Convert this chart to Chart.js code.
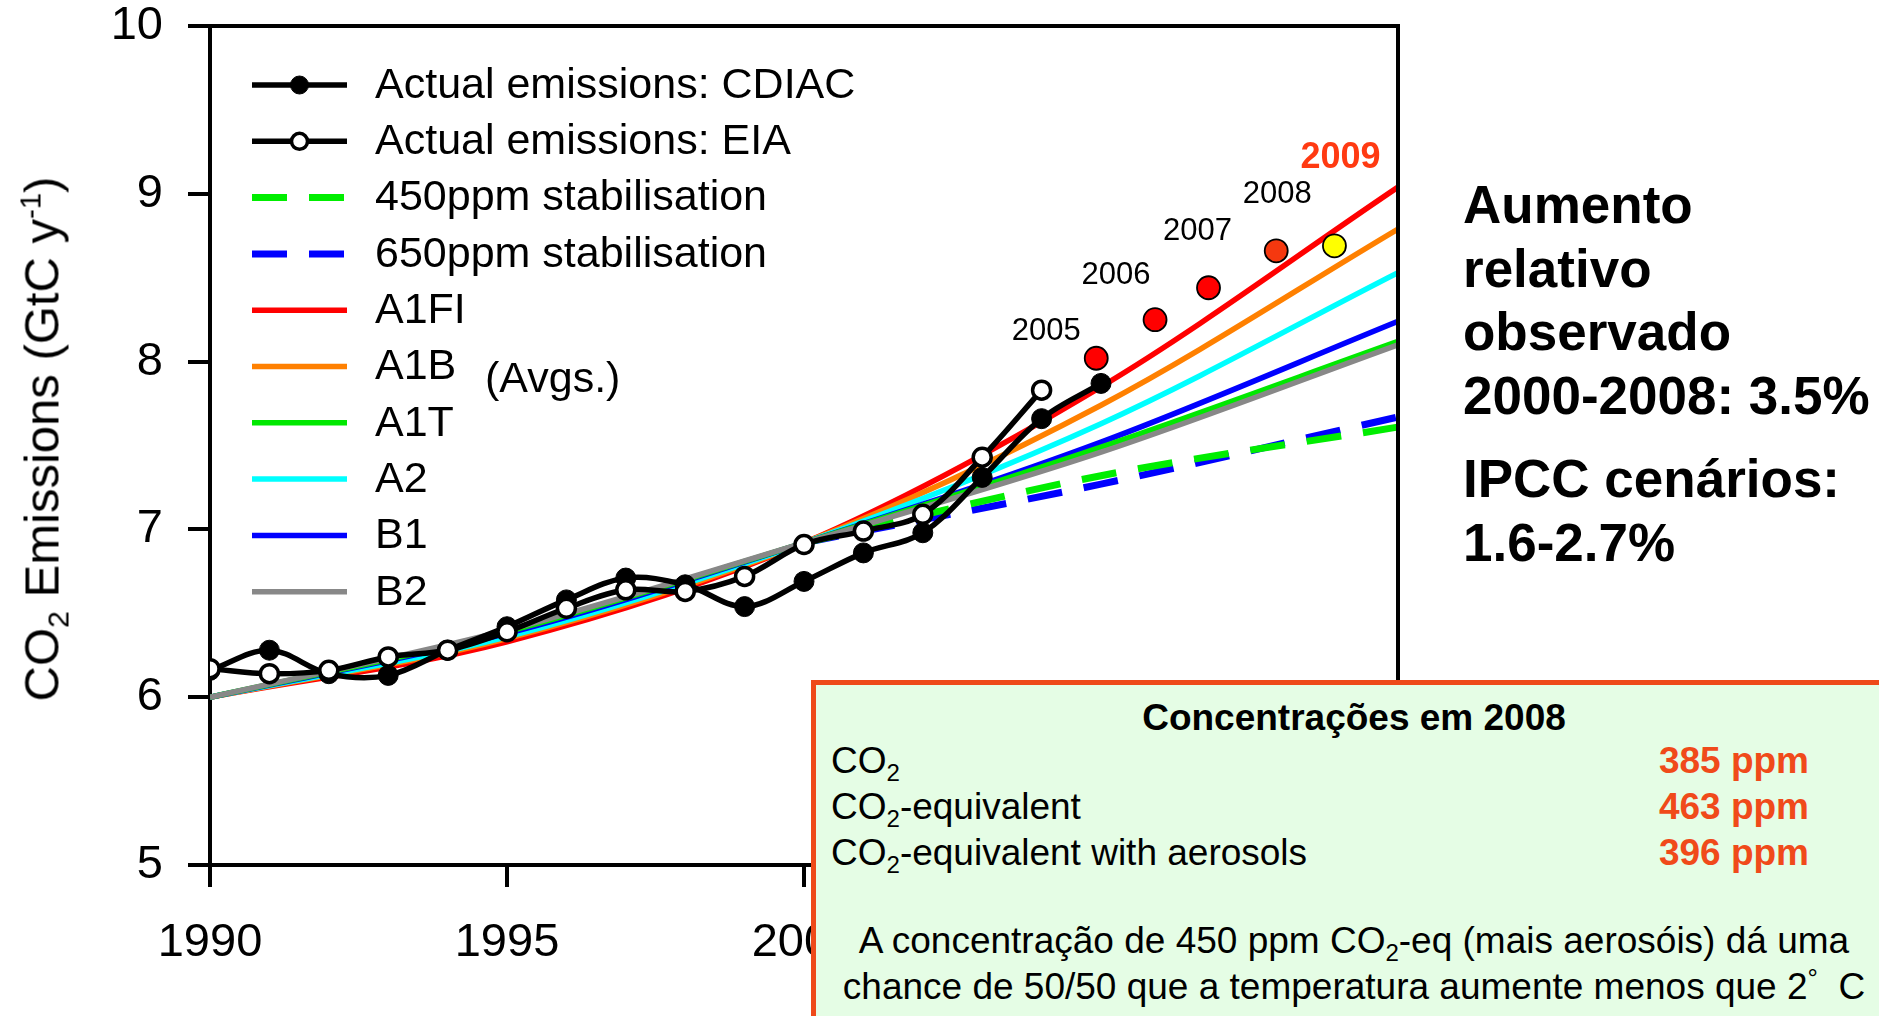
<!DOCTYPE html>
<html>
<head>
<meta charset="utf-8">
<title>CO2 Emissions</title>
<script src="https://cdn.jsdelivr.net/npm/chart.js@4/dist/chart.umd.min.js"></script>
<style>
  html, body { margin: 0; padding: 0; background: #fff; overflow: hidden; }
  #wrap { position: relative; width: 1879px; height: 1016px; overflow: hidden;
          font-family: "Liberation Sans", Arial, sans-serif; color: #000; }
  #chart { position: absolute; left: 0; top: 0; }
  .ytitle { position: absolute; left: 42px; top: 439px; font-size: 49px; line-height: 1;
            white-space: nowrap; transform: translate(-50%, -50%) rotate(-90deg); }
  .sub { font-size: 0.62em; position: relative; top: 0.32em; }
  .sup { font-size: 0.6em; position: relative; top: -0.62em; }
  .side { position: absolute; left: 1463px; font-weight: bold; font-size: 53px;
          line-height: 63.5px; white-space: nowrap; }
  .box { position: absolute; left: 811px; top: 680px; width: 1100px; height: 400px;
         box-sizing: border-box; border: 5px solid #ee4a1a; background: #e5fde5; }
  .bt { position: absolute; font-size: 37px; line-height: 37px; white-space: nowrap; }
  .bt.c { left: 1354px; transform: translateX(-50%); }
  .bt.l { left: 831px; }
  .bt.r { right: 70px; font-weight: bold; color: #f04a1a; }
  .bt .sub { font-size: 0.65em; top: 0.35em; }
</style>
</head>
<body>
<div id="wrap">
  <canvas id="chart" width="1879" height="1016"></canvas>

  <div class="ytitle">CO<span class="sub">2</span> Emissions (GtC y<span class="sup">-1</span>)</div>

  <div class="side" style="top:173px">Aumento<br>relativo<br>observado<br>2000-2008: 3.5%</div>
  <div class="side" style="top:447px">IPCC cenários:<br>1.6-2.7%</div>

  <div class="box"></div>
  <div class="bt c" style="top:699px;font-weight:bold">Concentrações em 2008</div>
  <div class="bt l" style="top:742px">CO<span class="sub">2</span></div>
  <div class="bt r" style="top:742px">385 ppm</div>
  <div class="bt l" style="top:788px">CO<span class="sub">2</span>-equivalent</div>
  <div class="bt r" style="top:788px">463 ppm</div>
  <div class="bt l" style="top:834px">CO<span class="sub">2</span>-equivalent with aerosols</div>
  <div class="bt r" style="top:834px">396 ppm</div>
  <div class="bt c" style="top:922px">A concentração de 450 ppm CO<span class="sub">2</span>-eq (mais aerosóis) dá uma</div>
  <div class="bt c" style="top:968px">chance de 50/50 que a temperatura aumente menos que 2<span style="position:relative;top:-0.45em;font-size:0.7em">°</span>&nbsp; C</div>
</div>

<script>
// ---- Observed emissions (GtC per year) ----
const cdiacYears  = [1990, 1991, 1992, 1993, 1994, 1995, 1996, 1997, 1998, 1999, 2000, 2001, 2002, 2003, 2004, 2005];
const cdiacValues = [6.16, 6.28, 6.14, 6.13, 6.28, 6.42, 6.58, 6.71, 6.67, 6.54, 6.69, 6.86, 6.98, 7.31, 7.66, 7.87];

const eiaYears  = [1990, 1991, 1992, 1993, 1994, 1995, 1996, 1997, 1998, 1999, 2000, 2001, 2002, 2003, 2004];
const eiaValues = [6.17, 6.14, 6.16, 6.24, 6.28, 6.39, 6.53, 6.64, 6.63, 6.72, 6.91, 6.99, 7.09, 7.43, 7.83];

// ---- Recent global estimates, one dot per year ----
const recentX      = [2004.92, 2005.91, 2006.81, 2007.95, 2008.93];
const recentValues = [8.02, 8.25, 8.44, 8.66, 8.69];
const recentLabels = ['2005', '2006', '2007', '2008', '2009'];

// ---- IPCC SRES scenario averages ----
const scenarioYears = [1990, 1995, 2000, 2005, 2010];
const a1fi    = [6.00, 6.33, 6.92, 7.85, 9.04];
const a1b     = [6.00, 6.35, 6.92, 7.74, 8.79];
const a2      = [6.00, 6.36, 6.92, 7.63, 8.53];
const b1      = [6.00, 6.38, 6.92, 7.52, 8.24];
const a1t     = [6.00, 6.39, 6.92, 7.49, 8.12];
const b2      = [6.00, 6.40, 6.92, 7.46, 8.10];

// ---- Stabilisation paths (diverge from the scenarios after 2000) ----
const stabYears = [2000, 2005, 2010];
const stab450   = [6.92, 7.32, 7.61];
const stab650   = [6.92, 7.27, 7.67];

// ---- Axis ticks ----
const xTicks = [1990, 1995, 2000, 2005, 2010];
const yTicks = [5, 6, 7, 8, 9, 10];

const FONT = '"Liberation Sans", Arial, sans-serif';
const pts = (xs, ys) => xs.map((x, i) => ({ x: x, y: ys[i] }));

function scenario(label, xs, ys, color, order, dashed) {
  return {
    label: label,
    data: pts(xs, ys),
    borderColor: color,
    backgroundColor: color,
    borderWidth: dashed ? 7 : 5.5,
    borderDash: dashed ? [35, 22] : [],
    pointRadius: 0,
    cubicInterpolationMode: 'monotone',
    fill: false,
    order: order
  };
}

const datasets = [
  {
    label: 'Actual emissions: EIA',
    data: pts(eiaYears, eiaValues),
    borderColor: '#000', borderWidth: 5.5,
    pointRadius: 9, pointBorderWidth: 3.5,
    pointBackgroundColor: '#fff', pointBorderColor: '#000',
    tension: 0.35, fill: false, order: 0
  },
  {
    label: 'Actual emissions: CDIAC',
    data: pts(cdiacYears, cdiacValues),
    borderColor: '#000', borderWidth: 5.5,
    pointRadius: 10, pointBorderWidth: 1,
    pointBackgroundColor: '#000', pointBorderColor: '#000',
    tension: 0.35, fill: false, order: 1
  },
  {
    label: 'recent',
    data: pts(recentX, recentValues),
    showLine: false,
    pointRadius: 11.5, pointBorderWidth: 1.8, pointBorderColor: '#000',
    pointBackgroundColor: ['#ff0000', '#ff0000', '#ff0000', '#f5380f', '#ffff00'],
    order: 2
  },
  scenario('B2', scenarioYears, b2, '#888888', 3),
  scenario('A1T', scenarioYears, a1t, '#00e800', 4),
  scenario('B1', scenarioYears, b1, '#0000ff', 5),
  scenario('A2', scenarioYears, a2, '#00ffff', 6),
  scenario('A1B', scenarioYears, a1b, '#ff8000', 7),
  scenario('A1FI', scenarioYears, a1fi, '#ff0000', 8),
  scenario('450ppm stabilisation', stabYears, stab450, '#00ee00', 9, true),
  scenario('650ppm stabilisation', stabYears, stab650, '#0000ff', 10, true)
];

const legendOrder = ['Actual emissions: CDIAC', 'Actual emissions: EIA', '450ppm stabilisation',
  '650ppm stabilisation', 'A1FI', 'A1B', 'A1T', 'A2', 'B1', 'B2'];

const legendLayout = { x0: 252, x1: 347, textX: 375, y0: 85, step: 56.3, size: 43 };
const labelOffsets = [[-50, -27], [-39, -44], [-11, -56], [1, -56], [6, -88]];

// Frame, legend and year labels drawn on top of the datasets
const decor = {
  id: 'decor',
  afterDatasetsDraw(chart) {
    const ctx = chart.ctx;
    const a = chart.chartArea;
    ctx.save();
    // top and right frame
    ctx.strokeStyle = '#000';
    ctx.lineWidth = 4;
    ctx.beginPath();
    ctx.moveTo(a.left - 22, a.top);
    ctx.lineTo(a.right, a.top);
    ctx.lineTo(a.right, a.bottom);
    ctx.stroke();

    // year labels beside the recent dots
    const meta = chart.getDatasetMeta(2);
    ctx.textAlign = 'center';
    ctx.textBaseline = 'middle';
    meta.data.forEach((pt, i) => {
      const last = i === recentLabels.length - 1;
      ctx.font = (last ? 'bold 36px ' : '31px ') + FONT;
      ctx.fillStyle = last ? '#ff3a12' : '#000';
      ctx.fillText(recentLabels[i], pt.x + labelOffsets[i][0], pt.y + labelOffsets[i][1]);
    });

    // legend
    ctx.textAlign = 'left';
    ctx.font = legendLayout.size + 'px ' + FONT;
    legendOrder.forEach((name, i) => {
      const ds = chart.data.datasets.find(d => d.label === name);
      const y = legendLayout.y0 + i * legendLayout.step;
      ctx.save();
      ctx.strokeStyle = ds.borderColor;
      ctx.lineWidth = ds.borderWidth;
      ctx.setLineDash(ds.borderDash || []);
      ctx.beginPath();
      ctx.moveTo(legendLayout.x0, y);
      ctx.lineTo(legendLayout.x1, y);
      ctx.stroke();
      ctx.restore();
      if (ds.pointRadius > 0) {
        const cx = (legendLayout.x0 + legendLayout.x1) / 2;
        ctx.beginPath();
        ctx.arc(cx, y, ds.pointRadius - 1, 0, Math.PI * 2);
        ctx.fillStyle = ds.pointBackgroundColor;
        ctx.fill();
        ctx.lineWidth = ds.pointBorderWidth;
        ctx.strokeStyle = ds.pointBorderColor;
        ctx.stroke();
      }
      ctx.fillStyle = '#000';
      ctx.fillText(name, legendLayout.textX, y + 1);
    });
    ctx.fillText('(Avgs.)', 485, 380);
    ctx.restore();
  }
};

new Chart(document.getElementById('chart'), {
  type: 'line',
  data: { datasets: datasets },
  options: {
    responsive: false,
    animation: false,
    events: [],
    layout: { padding: { left: 0, top: 26, right: 481, bottom: 0 } },
    plugins: { legend: { display: false }, tooltip: { enabled: false } },
    scales: {
      x: {
        type: 'linear', min: 1990, max: 2010,
        afterBuildTicks: s => { s.ticks = xTicks.map(v => ({ value: v })); },
        afterFit: s => { s.height = 151; s.paddingLeft = 0; s.paddingRight = 0; },
        grid: { display: true, drawOnChartArea: false, drawTicks: true, tickLength: 22, lineWidth: 4, color: '#000' },
        border: { display: true, color: '#000', width: 4 },
        ticks: { color: '#000', padding: 33, maxRotation: 0, autoSkip: false,
                 font: { family: FONT, size: 47, lineHeight: 1 }, callback: v => String(v) }
      },
      y: {
        type: 'linear', min: 5, max: 10,
        afterBuildTicks: s => { s.ticks = yTicks.map(v => ({ value: v })); },
        afterFit: s => { s.width = 210; s.paddingTop = 0; s.paddingBottom = 0; },
        grid: { display: true, drawOnChartArea: false, drawTicks: true, tickLength: 22, lineWidth: 4, color: '#000' },
        border: { display: true, color: '#000', width: 4 },
        ticks: { color: '#000', padding: 25, font: { family: FONT, size: 47, lineHeight: 1 },
                 callback: v => String(v) }
      }
    }
  },
  plugins: [decor]
});
</script>
</body>
</html>
